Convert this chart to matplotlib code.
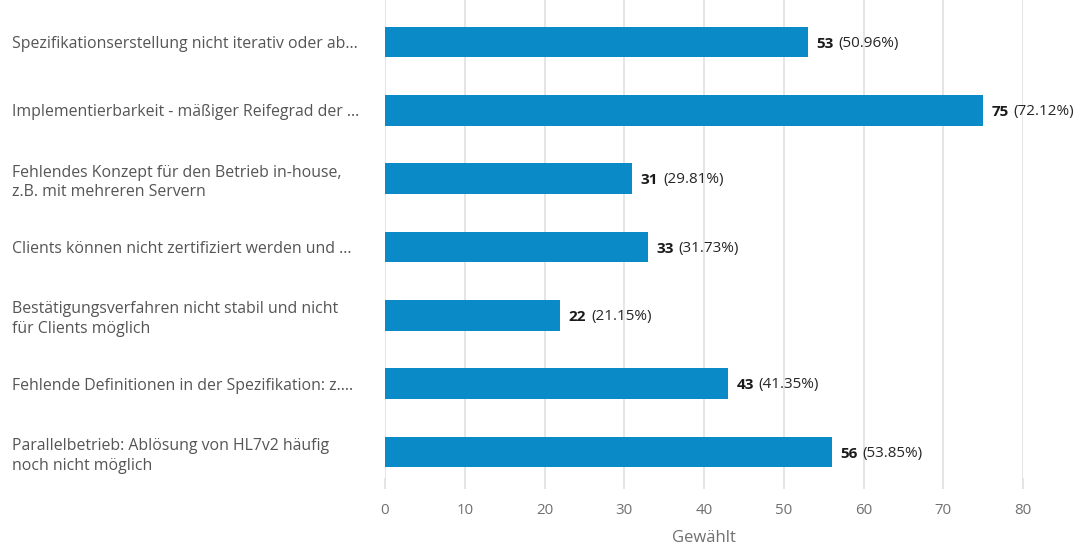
import matplotlib.pyplot as plt

plt.rcParams['font.family'] = ['Open Sans', 'DejaVu Sans']

labels = [
    'Spezifikationserstellung nicht iterativ oder ab...',
    'Implementierbarkeit - mäßiger Reifegrad der ...',
    'Fehlendes Konzept für den Betrieb in-house,\nz.B. mit mehreren Servern',
    'Clients können nicht zertifiziert werden und ...',
    'Bestätigungsverfahren nicht stabil und nicht\nfür Clients möglich',
    'Fehlende Definitionen in der Spezifikation: z....',
    'Parallelbetrieb: Ablösung von HL7v2 häufig\nnoch nicht möglich',
]
counts = [53, 75, 31, 33, 22, 43, 56]
percents = ['50.96%', '72.12%', '29.81%', '31.73%', '21.15%', '41.35%', '53.85%']
xticks = [0, 10, 20, 30, 40, 50, 60, 70, 80]

W, H = 1077, 547
fig = plt.figure(figsize=(W / 100, H / 100), dpi=100)
ax = fig.add_axes([385 / W, 1 - 478 / H, (1023 - 385) / W, 478 / H])

ypos = list(range(len(labels)))
ax.barh(ypos, counts, height=0.45, color='#0a8ac7', zorder=3)

ax.set_xlim(0, 80)
ax.set_ylim(6.38, -0.615)
ax.set_xticks(xticks)
ax.grid(axis='x', color='#e0e0e0', linewidth=1.2, zorder=0)
for s in ax.spines.values():
    s.set_visible(False)

ax.tick_params(axis='x', length=8, width=1.2, color='#e0e0e0', pad=10,
               labelsize=10.8, labelcolor='#707070')
ax.set_yticks(ypos)
ax.set_yticklabels(labels, ha='left', fontsize=11.4, color='#555555',
                   linespacing=1.3)
ax.tick_params(axis='y', length=0, pad=373 * 0.72)

ax.set_xlabel('Gewählt', fontsize=12, color='#707070', labelpad=9)

# Wert fett, Prozent normal direkt dahinter
for y, c, p in zip(ypos, counts, percents):
    t1 = ax.annotate(str(c), xy=(c, y), xytext=(6, 0), textcoords='offset points',
                     va='center_baseline', ha='left', fontsize=11, fontweight='bold',
                     color='#1a1a1a')
    ax.annotate('(' + p + ')', xy=(1, 0), xycoords=t1, xytext=(3.5, 0),
                textcoords='offset points', va='bottom', ha='left',
                fontsize=11, color='#262626')

fig.savefig('out.png', dpi=100)
